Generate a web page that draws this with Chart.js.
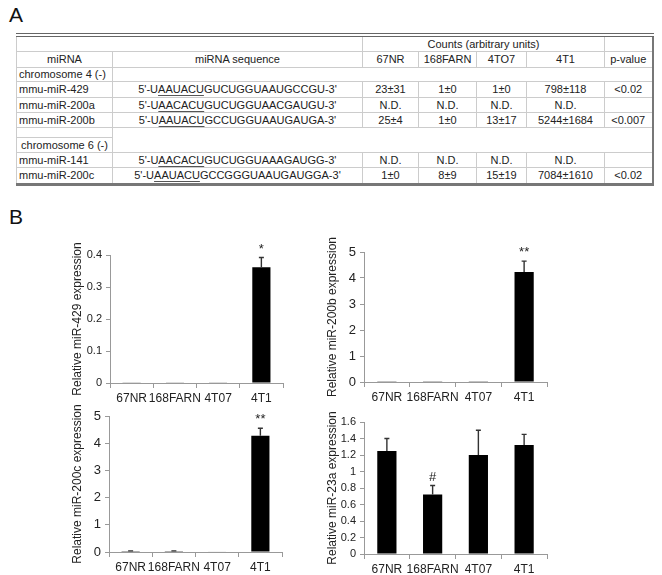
<!DOCTYPE html>
<html>
<head>
<meta charset="utf-8">
<script src="https://cdn.jsdelivr.net/npm/chart.js@4.4.1/dist/chart.umd.min.js"></script>
<style>
  html, body { margin: 0; padding: 0; background: #fff; }
  body { width: 662px; height: 575px; position: relative; overflow: hidden; font-family: 'Liberation Sans', Arial, sans-serif; }
  .panel { position: absolute; left: 9px; font-size: 21px; color: #111; }
  #tbl { position: absolute; left: 16px; top: 33px; width: 636px; border-collapse: collapse; table-layout: fixed;
         font-size: 11px; color: #222; border-top: 4px double #666; border-bottom: 3px solid #777;
         border-right: 2px solid #777; border-left: 1px solid #aaa; }
  #tbl td { border: 1px solid #ccc; padding: 0 2px; text-align: center; white-space: nowrap; overflow: hidden; line-height: 12px; }
  #tbl td.name { text-align: left; }
  #tbl u { text-decoration-color: #555; text-underline-offset: 2px; }
  canvas { position: absolute; }
</style>
</head>
<body>
<div class="panel" style="top:3px">A</div>
<div class="panel" style="top:205px">B</div>
<table id="tbl">
  <colgroup>
    <col style="width:96px"><col style="width:250px"><col style="width:56px"><col style="width:58px">
    <col style="width:50px"><col style="width:78px"><col style="width:48px">
  </colgroup>
  <tbody id="tbody"></tbody>
</table>

<canvas id="c429" width="245" height="175" style="left:50px;top:235px"></canvas>
<canvas id="c200b" width="255" height="177" style="left:305px;top:232px"></canvas>
<canvas id="c200c" width="245" height="178" style="left:50px;top:397px"></canvas>
<canvas id="c23a" width="255" height="178" style="left:305px;top:399px"></canvas>

<script>
// Table (panel A)
const countCols = ['67NR', '168FARN', '4TO7', '4T1'];
const chr4Names = ['mmu-miR-429', 'mmu-miR-200a', 'mmu-miR-200b'];
const chr4Seqs = [['5\'-U', 'AAUACU', 'GUCUGGUAAUGCCGU-3\''],
                  ['5\'-U', 'AACACU', 'GUCUGGUAACGAUGU-3\''],
                  ['5\'-U', 'AAUACU', 'GCCUGGUAAUGAUGA-3\'']];
const chr4Counts = [['23±31', '1±0', '1±0', '798±118'],
                    ['N.D.', 'N.D.', 'N.D.', 'N.D.'],
                    ['25±4', '1±0', '13±17', '5244±1684']];
const chr4P = ['<0.02', '', '<0.007'];
const chr6Names = ['mmu-miR-141', 'mmu-miR-200c'];
const chr6Seqs = [['5\'-U', 'AACACU', 'GUCUGGUAAAGAUGG-3\''],
                  ['5\'-U', 'AAUACU', 'GCCGGGUAAUGAUGGA-3\'']];
const chr6Counts = [['N.D.', 'N.D.', 'N.D.', 'N.D.'],
                    ['1±0', '8±9', '15±19', '7084±1610']];
const chr6P = ['', '<0.02'];

// Bar charts (panel B)
const cellLines = ['67NR', '168FARN', '4T07', '4T1'];
const miR429 = [0.002, 0.002, 0.002, 0.362];
const miR429Err = [0, 0, 0, 0.03];
const miR429Marks = ['', '', '', '*'];
const miR200b = [0.01, 0.01, 0.01, 4.23];
const miR200bErr = [0, 0, 0, 0.42];
const miR200bMarks = ['', '', '', '**'];
const miR200c = [0.03, 0.03, 0.02, 4.27];
const miR200cErr = [0.01, 0.01, 0, 0.28];
const miR200cMarks = ['', '', '', '**'];
const miR23a = [1.25, 0.72, 1.20, 1.32];
const miR23aErr = [0.15, 0.11, 0.30, 0.13];
const miR23aMarks = ['', '#', '', ''];

function esc(s) {
    return s.replace(/&/g, '&amp;').replace(/</g, '&lt;');
}

function dataRow(name, seq, counts, p, h) {
    return `<tr style="height:${h}px"><td class="name">${name}</td>` +
        `<td>${esc(seq[0])}<u>${seq[1]}</u>${esc(seq[2])}</td>` +
        counts.map(c => `<td>${c}</td>`).join('') + `<td>${esc(p)}</td></tr>`;
}

function buildTable() {
    let html = '';
    html += `<tr style="height:16px"><td colspan="2"></td><td colspan="4">Counts (arbitrary units)</td><td></td></tr>`;
    html += `<tr style="height:16px"><td>miRNA</td><td>miRNA sequence</td>` +
        countCols.map(c => `<td>${c}</td>`).join('') + `<td>p-value</td></tr>`;
    html += `<tr style="height:14px"><td class="name">chromosome 4 (-)</td><td colspan="6"></td></tr>`;
    const h4 = [16, 15, 15];
    chr4Names.forEach((n, i) => { html += dataRow(n, chr4Seqs[i], chr4Counts[i], chr4P[i], h4[i]); });
    html += `<tr style="height:10px"><td></td><td colspan="6" rowspan="2"></td></tr>`;
    html += `<tr style="height:15px"><td>chromosome 6 (-)</td></tr>`;
    const h6 = [15, 17];
    chr6Names.forEach((n, i) => { html += dataRow(n, chr6Seqs[i], chr6Counts[i], chr6P[i], h6[i]); });
    document.getElementById('tbody').innerHTML = html;
}

// error bars + significance marks
const errorBars = {
    id: 'errorBars',
    afterDatasetsDraw(chart) {
        const ctx = chart.ctx;
        const y = chart.scales.y;
        const ds = chart.data.datasets[0];
        const meta = chart.getDatasetMeta(0);
        ctx.save();
        meta.data.forEach((bar, i) => {
            const e = ds.errors[i];
            const top = y.getPixelForValue(ds.data[i] + e);
            if (e > 0) {
                ctx.strokeStyle = '#333';
                ctx.lineWidth = 1.4;
                ctx.beginPath();
                ctx.moveTo(bar.x, bar.y);
                ctx.lineTo(bar.x, top);
                ctx.moveTo(bar.x - 2.5, top);
                ctx.lineTo(bar.x + 2.5, top);
                ctx.stroke();
            }
            if (ds.marks[i]) {
                ctx.fillStyle = '#222';
                ctx.font = '13px "Liberation Sans", Arial, sans-serif';
                ctx.textAlign = 'center';
                ctx.textBaseline = 'bottom';
                ctx.fillText(ds.marks[i], bar.x, top - 2);
            }
        });
        ctx.restore();
    }
};

const fam = '"Liberation Sans", Arial, sans-serif';
const font = { family: fam, size: 12 };
const axisGray = '#999';

function makeChart(id, values, errors, marks, title, max, step, yTickSize, pad, yWidth, xHeight) {
    new Chart(document.getElementById(id), {
        type: 'bar',
        data: {
            labels: cellLines,
            datasets: [{
                data: values,
                errors: errors,
                marks: marks,
                backgroundColor: '#000',
                borderWidth: 0,
                barPercentage: 0.42,
                categoryPercentage: 1
            }]
        },
        options: {
            responsive: false,
            animation: false,
            devicePixelRatio: 1,
            layout: { padding: pad },
            plugins: { legend: { display: false }, tooltip: { enabled: false } },
            scales: {
                x: {
                    grid: { drawOnChartArea: false, drawTicks: true, tickLength: 5, color: axisGray, offset: true },
                    border: { color: axisGray },
                    ticks: { color: '#222', font: font, padding: 3, maxRotation: 0, minRotation: 0, autoSkip: false },
                    afterFit: s => { s.height = xHeight; }
                },
                y: {
                    min: 0,
                    max: max,
                    grid: { drawOnChartArea: false, tickLength: 4, color: axisGray },
                    border: { color: axisGray },
                    ticks: {
                        stepSize: step, autoSkip: false, color: '#222', font: { family: fam, size: yTickSize }, padding: 4,
                        callback: v => String(+v.toFixed(2))
                    },
                    title: { display: true, text: title, color: '#222', font: font, padding: { top: 4, bottom: 0 } },
                    afterFit: s => { s.width = yWidth; }
                }
            }
        },
        plugins: [errorBars]
    });
}

buildTable();
makeChart('c429', miR429, miR429Err, miR429Marks, 'Relative miR-429 expression', 0.4, 0.1, 11,
    { left: 16, top: 20, right: 12, bottom: 0 }, 44, 27);
makeChart('c200b', miR200b, miR200bErr, miR200bMarks, 'Relative miR-200b expression', 5, 1, 13,
    { left: 16, top: 20, right: 13, bottom: 0 }, 43, 27);
makeChart('c200c', miR200c, miR200cErr, miR200cMarks, 'Relative miR-200c expression', 5, 1, 13,
    { left: 16, top: 19, right: 13, bottom: 0 }, 43, 23);
makeChart('c23a', miR23a, miR23aErr, miR23aMarks, 'Relative miR-23a expression', 1.6, 0.2, 11,
    { left: 16, top: 23, right: 13, bottom: 0 }, 43, 23);
</script>
</body>
</html>
